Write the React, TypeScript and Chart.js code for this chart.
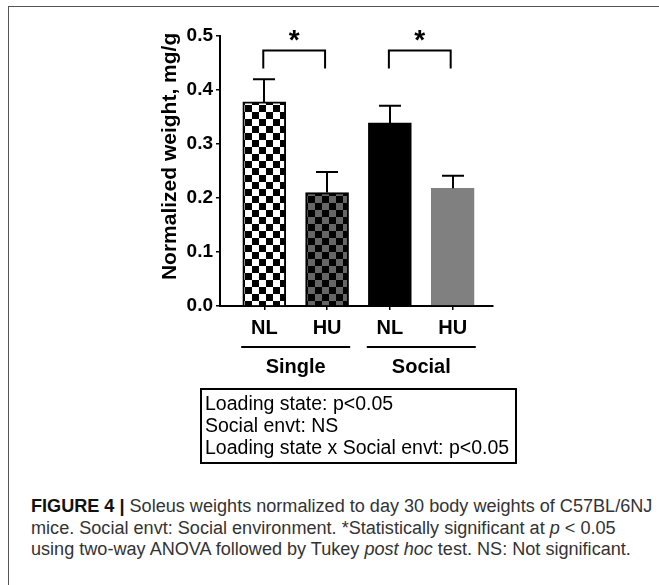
import React, { useEffect, useRef } from 'react';
import { Chart, registerables } from 'chart.js';

Chart.register(...registerables);

// ---------- data ----------
const categories = ['NL', 'HU', 'NL', 'HU'];
const groups = ['Single', 'Social'];
const groupMembers = [[0, 1], [2, 3]];
const means = [0.378, 0.21, 0.339, 0.218];
const errUpper = [0.42, 0.248, 0.371, 0.241];
const sigPairs = [[0, 1], [2, 3]];
const sigMarks = ['*', '*'];
const yMin = 0;
const yMax = 0.5;
const yStep = 0.1;
const yTitle = 'Normalized weight, mg/g';
const statsLines = [
  'Loading state: p<0.05',
  'Social envt: NS',
  'Loading state x Social envt: p<0.05',
];

const FONT = '"Liberation Sans", Arial, Helvetica, sans-serif';

function checker(c1: string, c2: string, size: number): CanvasPattern | string {
  const cv = document.createElement('canvas');
  cv.width = size * 2;
  cv.height = size * 2;
  const ctx = cv.getContext('2d');
  if (!ctx) return c1;
  ctx.fillStyle = c1;
  ctx.fillRect(0, 0, size * 2, size * 2);
  ctx.fillStyle = c2;
  ctx.fillRect(0, 0, size, size);
  ctx.fillRect(size, size, size, size);
  return ctx.createPattern(cv, 'repeat') || c1;
}

const overlayPlugin = {
  id: 'overlay',
  afterDatasetsDraw(chart: any) {
    const { ctx } = chart;
    const x = chart.scales.x;
    const y = chart.scales.y;
    ctx.save();
    ctx.strokeStyle = '#000';
    ctx.fillStyle = '#000';
    ctx.lineWidth = 2;
    // error bars (upper only)
    means.forEach((m, i) => {
      const px = Math.round(x.getPixelForValue(i));
      const y0 = y.getPixelForValue(m);
      const y1 = y.getPixelForValue(errUpper[i]);
      ctx.beginPath();
      ctx.moveTo(px, y0);
      ctx.lineTo(px, y1);
      ctx.moveTo(px - 11, y1);
      ctx.lineTo(px + 11, y1);
      ctx.stroke();
    });
    // significance brackets
    const top = y.getPixelForValue(0.473);
    const leg = y.getPixelForValue(0.44);
    sigPairs.forEach(([a, b], k) => {
      const xa = x.getPixelForValue(a) - 1;
      const xb = x.getPixelForValue(b) - 2;
      ctx.beginPath();
      ctx.moveTo(xa, leg);
      ctx.lineTo(xa, top);
      ctx.lineTo(xb, top);
      ctx.lineTo(xb, leg);
      ctx.stroke();
      ctx.font = `bold 28px ${FONT}`;
      ctx.textAlign = 'center';
      ctx.textBaseline = 'middle';
      ctx.fillText(sigMarks[k], (xa + xb) / 2, y.getPixelForValue(0.502) + 6);
    });
    // group lines and labels
    groupMembers.forEach((mem, g) => {
      const c = (x.getPixelForValue(mem[0]) + x.getPixelForValue(mem[mem.length - 1])) / 2;
      const half = 54.5;
      const ly = x.top + 41;
      ctx.lineWidth = 2;
      ctx.beginPath();
      ctx.moveTo(c - half, ly);
      ctx.lineTo(c + half, ly);
      ctx.stroke();
      ctx.font = `bold 20px ${FONT}`;
      ctx.textAlign = 'center';
      ctx.textBaseline = 'middle';
      ctx.fillText(groups[g], c, x.top + 61);
    });
    ctx.restore();
  },
};

export default function App() {
  const canvasRef = useRef<HTMLCanvasElement | null>(null);
  const capRefs = useRef<(HTMLDivElement | null)[]>([]);

  useEffect(() => {
    document.body.style.overflow = 'hidden';
    const canvas = canvasRef.current;
    if (!canvas) return;
    const fills = [
      checker('#ffffff', '#000000', 7),
      checker('#666666', '#000000', 7),
      '#000000',
      '#808080',
    ];
    const borders = ['#000000', '#000000', '#000000', '#808080'];
    const chart = new Chart(canvas, {
      type: 'bar',
      data: {
        datasets: [
          {
            data: means.map((v, i) => ({ x: i, y: v })),
            backgroundColor: fills as any,
            borderColor: borders,
            borderWidth: 2,
            barThickness: 43,
          } as any,
        ],
      },
      options: {
        responsive: false,
        animation: false,
        devicePixelRatio: 1,
        layout: { padding: { left: 158, right: 166, top: 36, bottom: 0 } },
        plugins: { legend: { display: false }, tooltip: { enabled: false } },
        scales: {
          x: {
            type: 'linear',
            offset: false,
            min: -0.705,
            max: 3.642,
            afterBuildTicks: (scale: any) => {
              scale.ticks = categories.map((_, i) => ({ value: i }));
            },
            afterFit: (scale: any) => {
              scale.height = 94;
            },
            grid: {
              offset: false,
              drawOnChartArea: false,
              drawTicks: true,
              tickLength: 4,
              color: '#000',
              lineWidth: 1.5,
            },
            border: { display: true, color: '#000', width: 2 },
            ticks: {
              autoSkip: false,
              maxRotation: 0,
              padding: 6,
              color: '#000',
              font: { family: FONT, size: 20, weight: 'bold' },
              callback: (v: any) => categories[Math.round(Number(v))] ?? '',
            },
          } as any,
          y: {
            min: yMin,
            max: yMax,
            afterFit: (scale: any) => {
              scale.width = 62;
            },
            grid: {
              drawOnChartArea: false,
              drawTicks: true,
              tickLength: 4,
              color: '#000',
              lineWidth: 1.5,
            },
            border: { display: true, color: '#000', width: 2 },
            ticks: {
              stepSize: yStep,
              padding: 3,
              color: '#000',
              font: { family: FONT, size: 19, weight: 'bold' },
              callback: (v: any) => Number(v).toFixed(1),
            },
            title: {
              display: true,
              text: '     ' + yTitle,
              color: '#000',
              padding: 0,
              font: { family: FONT, size: 21, weight: 'bold' },
            },
          } as any,
        },
      },
      plugins: [overlayPlugin],
    });

    // fit caption width
    const first = capRefs.current[0];
    if (first) {
      const w = first.scrollWidth;
      const k = w > 0 ? 621 / w : 1;
      capRefs.current.forEach((el) => {
        if (el) el.style.transform = `scaleX(${k})`;
      });
    }
    return () => chart.destroy();
  }, []);

  const capStyle: React.CSSProperties = {
    position: 'absolute',
    left: 31,
    whiteSpace: 'nowrap',
    transformOrigin: '0 50%',
    fontFamily: FONT,
    fontSize: 18,
    lineHeight: '20px',
    color: '#333',
  };

  return (
    <div style={{ position: 'absolute', left: 0, top: 0, width: 659, height: 585, overflow: 'hidden', background: '#fff' }}>
      <div
        style={{
          position: 'absolute',
          left: 8,
          top: 6,
          width: 660,
          height: 590,
          borderTop: '1.5px solid #555',
          borderLeft: '1.5px solid #555',
        }}
      />
      <canvas
        ref={canvasRef}
        width={659}
        height={400}
        style={{ position: 'absolute', left: 0, top: 0, width: 659, height: 400 }}
      />
      <div
        style={{
          position: 'absolute',
          left: 200,
          top: 388,
          width: 310,
          height: 70,
          border: '2px solid #000',
          fontFamily: FONT,
          fontSize: 19.5,
          lineHeight: '22px',
          color: '#000',
          paddingLeft: 3,
          paddingTop: 2,
          boxSizing: 'content-box',
          whiteSpace: 'nowrap',
        }}
      >
        {statsLines.map((s, i) => (
          <div key={i}>{s}</div>
        ))}
      </div>
      <div ref={(el) => { capRefs.current[0] = el; }} style={{ ...capStyle, top: 496 }}>
        <b style={{ color: '#111' }}>FIGURE 4 |</b> Soleus weights normalized to day 30 body weights of C57BL/6NJ
      </div>
      <div ref={(el) => { capRefs.current[1] = el; }} style={{ ...capStyle, top: 518 }}>
        mice. Social envt: Social environment. *Statistically significant at <i>p</i> &lt; 0.05
      </div>
      <div ref={(el) => { capRefs.current[2] = el; }} style={{ ...capStyle, top: 539 }}>
        using two-way ANOVA followed by Tukey <i>post hoc</i> test. NS: Not significant.
      </div>
    </div>
  );
}
